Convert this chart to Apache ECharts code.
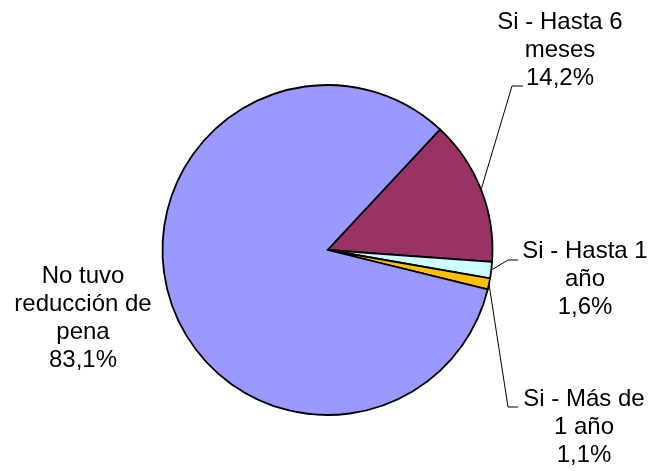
<!DOCTYPE html>
<html>
<head>
<meta charset="utf-8">
<script src="https://cdn.jsdelivr.net/npm/echarts@6/dist/echarts.min.js"></script>
<style>
  html, body { margin: 0; padding: 0; background: #ffffff; }
  #chart { width: 658px; height: 471px; }
</style>
</head>
<body>
<div id="chart"></div>
<script>
// Categories and shares (%) of sentence reduction
const categories = ['Si - Hasta 6\nmeses', 'Si - Hasta 1\naño', 'Si - Más de\n1 año', 'No tuvo\nreducción de\npena'];
const shares = [14.2, 1.6, 1.1, 83.1];
const sliceColors = ['#993366', '#CCFFFF', '#FFC000', '#9999FF'];

// Label block centres and leader-line elbow offsets (relative to the label centre)
const labelCentres = [[560, 50], [585, 279], [584, 427], [83, 318]];
const elbowOffsets = [[-48, 36, -37], [-77, -19, -67], [-76, -20, -66], null];

const chart = echarts.init(document.getElementById('chart'), null, { renderer: 'canvas' });

const data = categories.map((name, i) => ({
  name: name,
  value: shares[i],
  itemStyle: { color: sliceColors[i] },
  labelLine: { show: elbowOffsets[i] !== null }
}));

chart.setOption({
  animation: false,
  backgroundColor: '#ffffff',
  series: [{
    type: 'pie',
    center: [327.5, 250],
    radius: 165,
    startAngle: 47,
    clockwise: true,
    avoidLabelOverlap: false,
    data: data,
    itemStyle: { borderColor: '#000000', borderWidth: 1.8 },
    emphasis: { disabled: true },
    label: {
      show: true,
      position: 'outside',
      fontFamily: '"Liberation Sans", Arial, sans-serif',
      fontSize: 24,
      lineHeight: 28,
      color: '#000000',
      align: 'center',
      formatter: p => p.name + '\n' + p.value.toFixed(1).replace('.', ',') + '%'
    },
    labelLine: {
      show: true,
      length: 10,
      length2: 10,
      lineStyle: { color: '#000000', width: 1 }
    },
    labelLayout: function (params) {
      const i = params.dataIndex;
      const c = labelCentres[i];
      const out = { x: c[0], y: c[1], align: 'center', verticalAlign: 'middle' };
      const off = elbowOffsets[i];
      if (off && params.labelLinePoints) {
        const start = params.labelLinePoints[0];
        out.labelLinePoints = [
          [start[0], start[1]],
          [c[0] + off[0], c[1] + off[1]],
          [c[0] + off[2], c[1] + off[1]]
        ];
      }
      return out;
    }
  }]
});
</script>
</body>
</html>
